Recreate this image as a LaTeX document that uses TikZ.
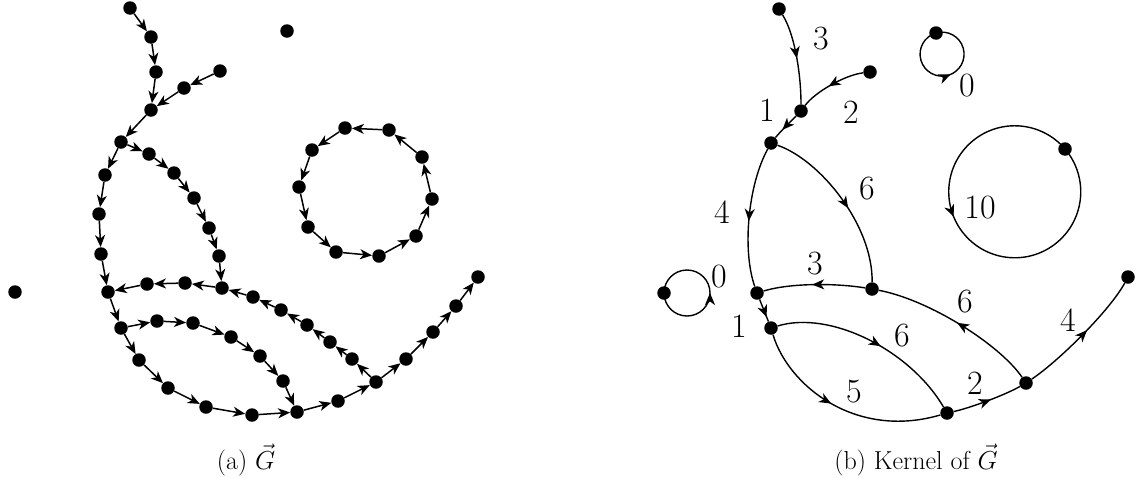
\RequirePackage{fix-cm}
\documentclass[tikz,border=0pt]{standalone}
\usetikzlibrary{arrows.meta,decorations.markings}
\begin{document}
\begin{tikzpicture}[x=1pt,y=1pt,
  vtx/.style={circle,fill=black,inner sep=0pt,minimum size=13.5pt},
  dedge/.style={line width=1.5pt,-{Stealth[length=12pt,width=10pt,inset=3.5pt]}},
  kedge/.style={line width=1.4pt,postaction={decorate},
    decoration={markings,mark=at position #1 with {\arrow{Stealth[length=12pt,width=10pt,inset=3.5pt]}}}},
  lbl/.style={font=\fontsize{34}{40}\selectfont,inner sep=0pt},
  captext/.style={font=\fontsize{26}{31}\selectfont,inner sep=0pt}]
\useasboundingbox (0,0) rectangle (1139,-477);

% ---------- (a) the graph ----------
\foreach \n/\x/\y in {p1/130/8, p2/151/37, p3/156/72, p4/220/71, p5/184/88, p6/151/110,
  p7/121/142, p8/149/154, p9/174/173, p10/105/175, p11/99/214, p12/101/254, p13/108/292,
  p14/194/198, p15/209/228, p16/219/256, p17/222/288, p18/185/283, p19/147/284,
  p20/253/297, p21/281/310, p22/307/325, p23/330/342, p24/352/359, p25/376/382,
  p26/121/328, p27/157/321, p28/193/323, p29/231/337, p30/260/356, p31/283/381, p32/297/412,
  p33/139/360, p34/168/388, p35/206/407, p36/252/415, p37/338/401,
  p38/406/359, p39/433/332, p40/456/306, p41/478/277,
  c1/389/130, c2/345/128, c3/312/150, c4/299/187, c5/308/227, c6/336/252, c7/379/256,
  c8/416/236, c9/432/199, c10/422/157, q1/287/31, q2/15/292}
  \node[vtx] (\n) at (\x,-\y) {};

\foreach \a/\b in {p1/p2, p2/p3, p3/p6, p4/p5, p5/p6, p6/p7,
  p7/p10, p10/p11, p11/p12, p12/p13,
  p7/p8, p8/p9, p9/p14, p14/p15, p15/p16, p16/p17,
  p17/p18, p18/p19, p19/p13,
  p25/p24, p24/p23, p23/p22, p22/p21, p21/p20, p20/p17,
  p13/p26,
  p26/p27, p27/p28, p28/p29, p29/p30, p30/p31, p31/p32,
  p26/p33, p33/p34, p34/p35, p35/p36, p36/p32,
  p32/p37, p37/p25,
  p25/p38, p38/p39, p39/p40, p40/p41,
  c1/c2, c2/c3, c3/c4, c4/c5, c5/c6, c6/c7, c7/c8, c8/c9, c9/c10, c10/c1}
  \draw[dedge] (\a) -- (\b);

% ---------- (b) kernel ----------
\foreach \n/\x/\y in {ka/779/9, kb/801/111, kc/870/72, kd/771/143, ke/757/293,
  kf/872/289, kg/1026/383, kh/771/328, ki/947/413, kj/1128/277,
  kk/1065/149, kl/936/33, km/664/293}
  \node[vtx] (\n) at (\x,-\y) {};

\draw[kedge=0.5] (ka) .. controls (795,-35) and (801,-75) .. (kb);
\draw[kedge=0.55] (kc) .. controls (845,-75) and (815,-92) .. (kb);
\draw[kedge=0.65] (kb) .. controls (790,-122) and (780,-132) .. (kd);
\draw[kedge=0.53] (kd) .. controls (748,-185) and (742,-250) .. (ke);
\draw[kedge=0.55] (kd) .. controls (820,-160) and (873,-225) .. (kf);
\draw[kedge=0.52] (kf) .. controls (835,-283) and (790,-283) .. (ke);
\draw[kedge=0.5] (kg) .. controls (1000,-345) and (930,-300) .. (kf);
\draw[kedge=0.8] (ke) -- (kh);
\draw[kedge=0.55] (kh) .. controls (830,-310) and (910,-350) .. (ki);
\draw[kedge=0.45] (kh) .. controls (788,-385) and (855,-440) .. (ki);
\draw[kedge=0.55] (ki) .. controls (970,-408) and (1005,-395) .. (kg);
\draw[kedge=0.55] (kg) .. controls (1060,-360) and (1110,-310) .. (kj);
\draw[kedge=0.45] (kk.center) arc[start angle=40.4,end angle=400.4,radius=66];
\draw[kedge=0.52] (kl.center) arc[start angle=106,end angle=466,radius=22];
\draw[kedge=0.5] (km.center) arc[start angle=180,end angle=540,radius=23];

\node[lbl] (l1) at (821,-39) {3};
\node[lbl] (l2) at (851,-112) {2};
\node[lbl] (l3) at (767,-110) {1};
\node[lbl] (l4) at (867,-189) {6};
\node[lbl] (l5) at (722,-212) {4};
\node[lbl] (l6) at (815,-264) {3};
\node[lbl] (l7) at (719,-277) {0};
\node[lbl] (l8) at (739,-326) {1};
\node[lbl] (l9) at (965,-302) {6};
\node[lbl] (l10) at (902,-336) {6};
\node[lbl] (l11) at (854,-392) {5};
\node[lbl] (l12) at (975,-383) {2};
\node[lbl] (l13) at (1068,-320) {4};
\node[lbl] (l14) at (980,-208) {10};
\node[lbl] (l15) at (967,-86) {0};

\node[captext] (capa) at (246,-460) {(a) $\vec{G}$};
\node[captext] (capb) at (916,-460) {(b) Kernel of $\vec{G}$};
\end{tikzpicture}
\end{document}
